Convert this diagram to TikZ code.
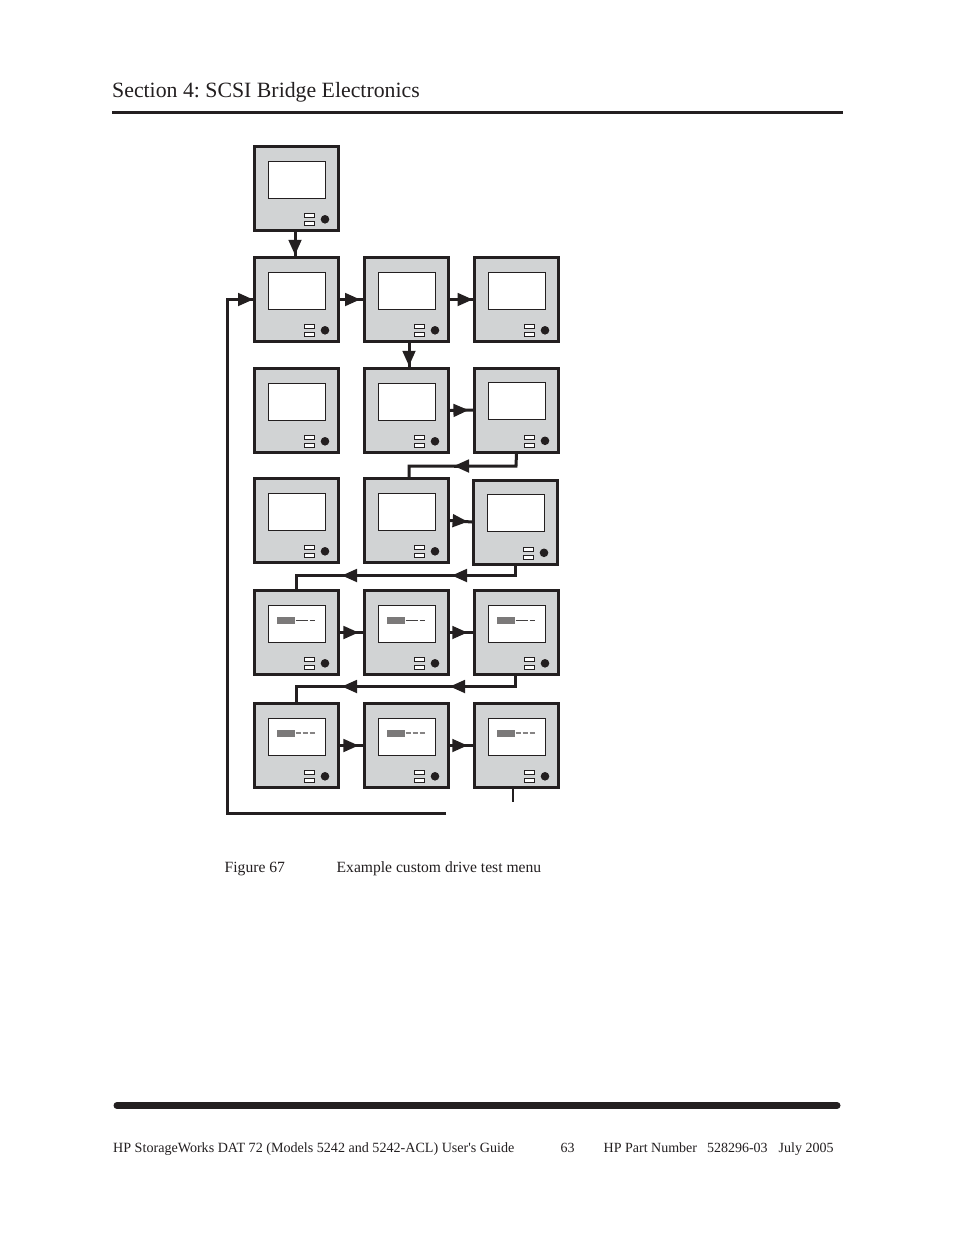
\documentclass[tikz,border=0pt]{standalone}
\usepackage{fontspec}
\setmainfont{Liberation Serif}
\newfontfamily\plainserif{Liberation Serif}
\frenchspacing
\usetikzlibrary{arrows.meta,decorations.markings}
\definecolor{ink}{HTML}{231F20}
\definecolor{panelgray}{HTML}{D1D3D4}
\tikzset{
  panelbox/.style={draw=ink,fill=panelgray,line width=3pt,minimum width=84pt,minimum height=84pt,inner sep=0pt,outer sep=1.5pt,rectangle},
  screenbox/.style={draw=ink,fill=white,line width=1.1pt,minimum width=57pt,minimum height=37pt,inner sep=0pt,rectangle},
  btn/.style={draw=ink,fill=white,line width=1pt,minimum width=10pt,minimum height=4pt,inner sep=0pt,rectangle},
  knob/.style={fill=ink,circle,minimum size=8.6pt,inner sep=0pt},
  conn/.style={draw=ink,line width=3pt,line join=miter},
  headmark/.style={postaction={decorate,decoration={markings,mark=at position #1 with {\arrow[ink,line width=0pt]{Triangle[length=15pt,width=13.5pt]}}}}},
  txt/.style={anchor=base west,inner sep=0pt,text=ink},
  block/.style={fill=ink!60,minimum width=5.6pt,minimum height=7pt,inner sep=0pt,rectangle},
}
% name, left, top
\newcommand{\panelat}[3]{%
  \node[panelbox] (#1) at (#2+43.5,#3+43.5) {};
  \node[screenbox] (#1s) at (#2+44,#3+34.8) {};
  \node[btn] (#1a) at (#2+56.5,#3+70.5) {};
  \node[btn] (#1b) at (#2+56.5,#3+78.5) {};
  \node[knob] (#1k) at (#2+72,#3+74.3) {};
}
% tiny unreadable screen marks: panel name
\newcommand{\tinyblocks}[1]{%
  \node[block] at ([xshift=-17.3pt,yshift=3.8pt]#1s.center) {};
  \node[block] at ([xshift=-11.1pt,yshift=3.8pt]#1s.center) {};
  \node[block] at ([xshift=-4.9pt,yshift=3.8pt]#1s.center) {};
}
\newcommand{\tinyA}[1]{%
  \tinyblocks{#1}
  \draw[ink!85,line width=0.7pt] ([xshift=-1.5pt,yshift=3.8pt]#1s.center) -- ([xshift=11pt,yshift=3.8pt]#1s.center);
  \draw[ink!85,line width=0.7pt] ([xshift=12.5pt,yshift=3.8pt]#1s.center) -- ([xshift=18pt,yshift=3.8pt]#1s.center);
}
\newcommand{\tinyB}[1]{%
  \tinyblocks{#1}
  \draw[ink!55,line width=1.1pt] ([xshift=-1.5pt,yshift=3.8pt]#1s.center) -- ([xshift=4pt,yshift=3.8pt]#1s.center);
  \draw[ink!55,line width=1.1pt] ([xshift=5.5pt,yshift=3.8pt]#1s.center) -- ([xshift=11pt,yshift=3.8pt]#1s.center);
  \draw[ink!55,line width=1.1pt] ([xshift=12.5pt,yshift=3.8pt]#1s.center) -- ([xshift=18pt,yshift=3.8pt]#1s.center);
}
\begin{document}
\begin{tikzpicture}[x=1pt,y=-1pt]
\useasboundingbox (0,0) rectangle (954,1235);
\fill[white] (0,0) rectangle (954,1235);

\node[txt,font=\fontsize{21.8}{24}\selectfont] (title) at (112,97) {Section 4: SCSI Bridge Electronics};
\coordinate (ruleL) at (112,112.5); \coordinate (ruleR) at (843,112.5);
\draw[ink,line width=3pt] (ruleL) -- (ruleR);

% panels
\panelat{a}{253}{145}
\panelat{b1}{253}{256}\panelat{b2}{363}{256}\panelat{b3}{473}{256}
\panelat{c1}{253}{367}\panelat{c2}{363}{367}\panelat{c3}{473}{366.5}
\panelat{d1}{253}{477}\panelat{d2}{363}{477}\panelat{d3}{472}{478.5}
\panelat{e1}{253}{589}\panelat{e2}{363}{589}\panelat{e3}{473}{589}
\panelat{f1}{253}{702}\panelat{f2}{363}{702}\panelat{f3}{473}{702}

\tinyA{e1}\tinyA{e2}\tinyA{e3}
\tinyB{f1}\tinyB{f2}\tinyB{f3}

% straight connectors
\path[conn,headmark=0.95] ([xshift=-1.5pt]a.south) -- ([xshift=-1.5pt]b1.north);
\path[conn,headmark=0.87] (b1.east) -- (b2.west);
\path[conn,headmark=0.98] (b2.east) -- (b3.west);
\path[conn,headmark=0.95] ([xshift=2.5pt]b2.south) -- ([xshift=2.5pt]c2.north);
\path[conn,headmark=0.8] (c2.east) -- (c3.west);
\path[conn,headmark=0.8] (d2.east) -- (d3.west);
\path[conn,headmark=0.8] (e1.east) -- (e2.west);
\path[conn,headmark=0.75] (e2.east) -- (e3.west);
\path[conn,headmark=0.8] (f1.east) -- (f2.west);
\path[conn,headmark=0.75] (f2.east) -- (f3.west);

% return connectors
\coordinate (r1a) at (516,466); \coordinate (r1b) at (409,466);
\draw[conn] (c3.south) -- (r1a) -- (r1b) -- ([xshift=2.5pt]d2.north);
\coordinate (m1) at (469,466); \coordinate (m1t) at (454,466);
\path[conn,headmark=1] (m1) -- (m1t);

\coordinate (r2a) at (515,575.5); \coordinate (r2b) at (296,575.5);
\draw[conn] (r2a |- d3.south) -- (r2a) -- (r2b) -- (r2b |- e1.north);
\coordinate (m2) at (467,575.5); \coordinate (m2t) at (452,575.5);
\path[conn,headmark=1] (m2) -- (m2t);
\coordinate (m3) at (357,575.5); \coordinate (m3t) at (342,575.5);
\path[conn,headmark=1] (m3) -- (m3t);

\coordinate (r3a) at (515,686.5); \coordinate (r3b) at (296,686.5);
\draw[conn] (r3a |- e3.south) -- (r3a) -- (r3b) -- (r3b |- f1.north);
\coordinate (m4) at (465,686.5); \coordinate (m4t) at (450,686.5);
\path[conn,headmark=1] (m4) -- (m4t);
\coordinate (m5) at (357,686.5); \coordinate (m5t) at (342,686.5);
\path[conn,headmark=1] (m5) -- (m5t);

% loop back
\coordinate (loopEnd) at (446,813.5); \coordinate (loopC) at (227,813.5); \coordinate (loopT) at (227,299.5);
\draw[conn] (loopEnd) -- (loopC) -- (loopT) -- (b1.west);
\coordinate (m6) at (238,299.5);
\path[conn,headmark=1] (m6) -- (b1.west);

% stub
\coordinate (stubEnd) at (513,801.5);
\draw[ink,line width=1.6pt] (f3.south -| stubEnd) -- (stubEnd);

% caption
\node[txt,font=\fontsize{15.6}{17}\selectfont] (fig) at (224.5,872) {Figure 67};
\node[txt,font=\fontsize{15.6}{17}\selectfont] (cap) at (336.5,872) {Example custom drive test menu};

% footer
\coordinate (barL) at (117,1105.5); \coordinate (barR) at (837,1105.5);
\draw[ink,line width=7pt,line cap=round] (barL) -- (barR);
\node[txt,font=\plainserif\fontsize{14.1}{17}\selectfont] (fl) at (113,1152) {HP StorageWorks DAT 72 (Models 5242 and 5242-ACL) User's Guide};
\node[txt,font=\fontsize{14}{17}\selectfont] (fn) at (560.5,1152) {63};
\node[txt,font=\fontsize{14}{17}\selectfont] (fr) at (603.5,1152) {HP Part Number\hspace{6.5pt} 528296-03\hspace{7.5pt} July 2005};
\end{tikzpicture}
\end{document}
